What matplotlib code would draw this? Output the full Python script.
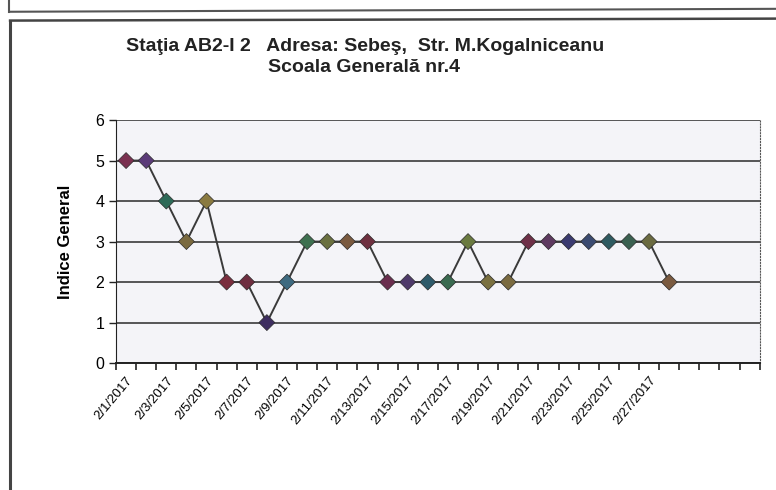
import numpy as np
import matplotlib
matplotlib.use("Agg")
import matplotlib.pyplot as plt
from matplotlib.lines import Line2D

plt.rcParams['font.family'] = ['Liberation Sans', 'DejaVu Sans']

# data
dates = ["2/%d/2017" % d for d in range(1, 29)]
indice = [5, 5, 4, 3, 4, 2, 2, 1, 2, 3, 3, 3, 3, 2,
          2, 2, 2, 3, 2, 2, 3, 3, 3, 3, 3, 3, 3, 2]
n_slots = 32  # axis keeps 4 empty categories after 2/28
y_ticks = [0, 1, 2, 3, 4, 5, 6]

title1 = "Staţia AB2-I 2   Adresa: Sebeş,  Str. M.Kogalniceanu"
title2 = "Scoala Generală nr.4"
ylabel = "Indice General"

# marker colours ("vary colours by point" look)
mk_colors = ["#7a3050", "#5a3a78", "#2e6a58", "#7a6a40", "#8a7a40", "#7a2e3e",
             "#6e2e40", "#3e2e60", "#3e6a80", "#3e7050", "#6a7040", "#7a5a40",
             "#6e3040", "#6a2e4e", "#4e3a6a", "#2e5a6a", "#3a6a50", "#6a7a40",
             "#7a7040", "#7a6a40", "#6e3048", "#5e3a60", "#3a3a70", "#3a4a70",
             "#2e5a60", "#3a6050", "#6a6a40", "#7a5a40"]

fig = plt.figure(figsize=(7.76, 4.9), dpi=100)
fig.patch.set_facecolor("white")

# scanned page frames
fig.add_artist(Line2D([0.012, 1.0], [0.976, 0.982], color="#555555", lw=1.5))
fig.add_artist(Line2D([0.012, 0.012], [0.976, 1.0], color="#555555", lw=1.5))
fig.add_artist(Line2D([0.013, 1.0], [0.958, 0.962], color="#444444", lw=1.8))
fig.add_artist(Line2D([0.013, 0.013], [0.0, 0.958], color="#444444", lw=2.2))

ax = fig.add_axes([0.1495, 0.259, 0.8295, 0.496])
ax.set_facecolor("#f4f4f8")

x = np.arange(len(indice))
ax.plot(x, indice, color="#3a3a3a", lw=1.4, zorder=2)
ax.scatter(x, indice, marker="D", s=66, c=mk_colors, edgecolors="#2a2a2a",
           linewidths=0.5, zorder=3)

ax.set_xlim(-0.5, n_slots - 0.5)
ax.set_ylim(0, 6)
ax.set_yticks(y_ticks)
ax.yaxis.grid(True, color="#2a2a2a", lw=1.1)
ax.set_axisbelow(True)

lab_pos = x[::2]
ax.set_xticks(lab_pos)
ax.set_xticklabels([dates[i] for i in lab_pos], rotation=50, ha="right",
                   rotation_mode="anchor", fontsize=9.5)
ax.tick_params(axis="x", which="major", length=0, pad=8)
ax.set_xticks(np.arange(-0.5, n_slots), minor=True)
ax.tick_params(axis="x", which="minor", length=5, width=1.2, color="#222222")
ax.tick_params(axis="y", length=5, width=1.0, labelsize=11.5, color="#222222")

ax.spines["top"].set_visible(False)
ax.spines["right"].set_linestyle(":")
ax.spines["right"].set_color("#555555")
ax.spines["left"].set_color("#222222")
ax.spines["bottom"].set_color("#222222")
ax.spines["bottom"].set_linewidth(1.4)

ax.set_ylabel(ylabel, fontsize=12, fontweight="bold", labelpad=16)

fig.text(0.471, 0.906, title1, ha="center", va="center", fontsize=14,
         fontweight="bold", color="#222222")
fig.text(0.469, 0.862, title2, ha="center", va="center", fontsize=14,
         fontweight="bold", color="#222222")

fig.savefig("out.png", dpi=100)
